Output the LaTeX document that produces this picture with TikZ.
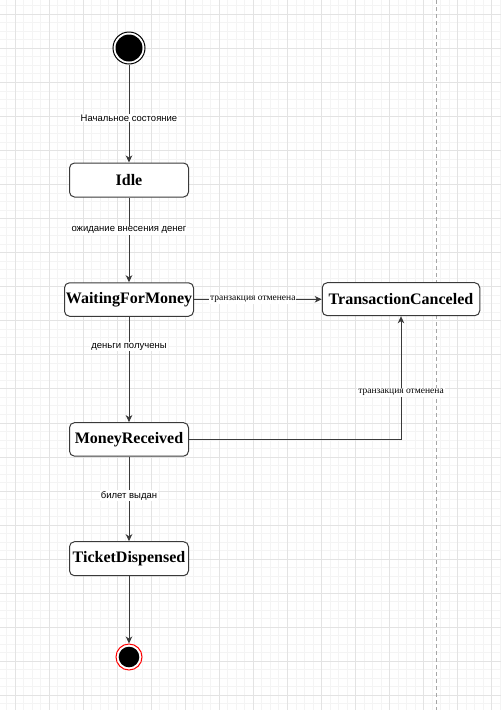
\documentclass[tikz,border=0pt]{standalone}
\usepackage{fontspec}
\setmainfont{Liberation Serif}
\newfontfamily\arialf{Liberation Sans}
\usetikzlibrary{arrows.meta}
\definecolor{gridminor}{HTML}{F4F4F4}
\definecolor{gridmajor}{HTML}{E3E3E3}
\definecolor{linec}{HTML}{3A3A3A}
\begin{document}
\begin{tikzpicture}[x=1pt,y=-1pt,
  state/.style={draw=linec, line width=1pt, rounded corners=5pt, fill=white,
    font=\fontsize{16}{18}\selectfont\bfseries, inner sep=0pt},
  lbl/.style={font=\arialf\fontsize{9.5}{11}\selectfont, fill=white, inner sep=1pt, text=black},
  lbls/.style={font=\fontsize{9.5}{11}\selectfont, fill=white, inner sep=1pt, text=black},
  conn/.style={draw=linec, line width=1pt, -{Stealth[length=7pt,width=6.5pt,inset=2pt]}},
]
\useasboundingbox (0,0) rectangle (501,710);
\fill[white] (0,0) rectangle (501,710);
% grid
\foreach \i in {-1,...,58} {
  \draw[gridminor, line width=0.8pt] ({15+8.5125*\i},0) -- ({15+8.5125*\i},710);
}
\foreach \i in {-1,...,83} {
  \draw[gridminor, line width=0.8pt] (0,{14.3+8.5125*\i}) -- (501,{14.3+8.5125*\i});
}
\foreach \i in {0,...,14} {
  \draw[gridmajor, line width=0.8pt] ({15+34.05*\i},0) -- ({15+34.05*\i},710);
}
\foreach \i in {0,...,20} {
  \draw[gridmajor, line width=0.8pt] (0,{14.3+34.05*\i}) -- (501,{14.3+34.05*\i});
}
\draw[black!35, line width=0.8pt, dash pattern=on 4pt off 3pt] (436,0) -- (436,710);

% initial state
\node[circle, draw=black, line width=1pt, fill=white, minimum size=32pt, inner sep=0pt] (init) at (129,48) {};
\fill[black] (init.center) circle (13.5pt);

% states
\node[state, minimum width=119pt, minimum height=34pt] (idle) at (129,180) {Idle};
\node[state, minimum width=129pt, minimum height=33.5pt] (wfm) at (129,299.5) {WaitingForMoney};
\node[state, minimum width=157.5pt, minimum height=33pt] (tc) at (401,299.2) {TransactionCanceled};
\node[state, minimum width=119pt, minimum height=33.5pt] (mr) at (129,439.4) {MoneyReceived};
\node[state, minimum width=119pt, minimum height=34pt] (td) at (129,558.7) {TicketDispensed};

% final state
\node[circle, draw=red, line width=1pt, fill=white, minimum size=26pt, inner sep=0pt] (final) at (129,657) {};
\fill[black] (final.center) circle (10.3pt);

% connectors
\draw[conn] (init) -- node[lbl, pos=0.545] {Начальное состояние} (idle);
\draw[conn] (idle) -- node[lbl, pos=0.384] {ожидание внесения денег} (wfm);
\draw[conn] (wfm) -- node[lbls, pos=0.46] {транзакция отменена} (tc);
\draw[conn] (wfm) -- node[lbl, pos=0.285] {деньги получены} (mr);
\draw[conn] (mr) -| node[lbls, pos=0.69] {транзакция отменена} (tc);
\draw[conn] (mr) -- node[lbl, pos=0.46] {билет выдан} (td);
\draw[conn] (td) -- (final);
\end{tikzpicture}
\end{document}
